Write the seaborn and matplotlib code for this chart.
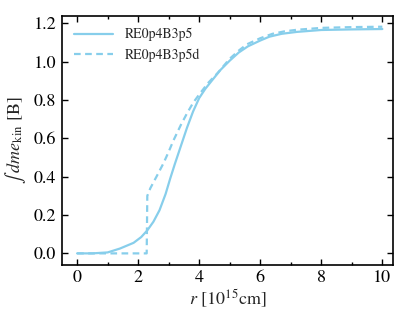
import matplotlib
matplotlib.use("Agg")
import matplotlib.pyplot as plt
import seaborn as sns
from matplotlib.ticker import MultipleLocator, FormatStrFormatter

# solid run
r_a = [0.0, 0.5, 1.0, 1.4, 1.85, 2.1, 2.3, 2.5, 2.7, 2.9, 3.05, 3.2, 3.4, 3.6, 3.8, 4.0, 4.2, 4.4, 4.7,
       5.0, 5.3, 5.6, 6.0, 6.3, 6.7, 7.2, 8.0, 9.0, 10.0]
e_a = [0.0, 0.0, 0.005, 0.025, 0.055, 0.085, 0.12, 0.165, 0.225, 0.31, 0.39, 0.465, 0.56, 0.655, 0.74,
       0.81, 0.858, 0.898, 0.957, 1.005, 1.048, 1.08, 1.11, 1.13, 1.145, 1.155, 1.165, 1.168, 1.17]

# dashed run
r_b = [0.0, 2.28, 2.30, 2.4, 2.5, 2.65, 2.83, 3.0, 3.16, 3.4, 3.6, 3.8, 4.03, 4.3, 4.6, 5.0, 5.3,
       5.56, 6.0, 6.4, 6.8, 7.2, 8.0, 9.0, 10.0]
e_b = [0.0, 0.0, 0.30, 0.34, 0.37, 0.415, 0.47, 0.53, 0.59, 0.67, 0.73, 0.785, 0.835, 0.89, 0.94,
       1.015, 1.058, 1.09, 1.122, 1.145, 1.158, 1.166, 1.176, 1.18, 1.182]

labels = ["RE0p4B3p5", "RE0p4B3p5d"]

sns.set_theme(style="ticks")
plt.rcParams["font.family"] = ["STIXGeneral", "DejaVu Serif"]
plt.rcParams["mathtext.fontset"] = "stix"
plt.rcParams["xtick.direction"] = "in"
plt.rcParams["ytick.direction"] = "in"

fig = plt.figure(figsize=(4.15, 3.12), dpi=100)
ax = fig.add_axes([0.149, 0.151, 0.798, 0.799])

color = "#87ceeb"
sns.lineplot(x=r_a, y=e_a, ax=ax, color=color, lw=1.6, label=labels[0], sort=False)
sns.lineplot(x=r_b, y=e_b, ax=ax, color=color, lw=1.6, ls=(0, (3, 2)), label=labels[1], sort=False)

ax.set_xlim(-0.5, 10.35)
ax.set_ylim(-0.06, 1.24)
ax.xaxis.set_major_locator(MultipleLocator(2))
ax.xaxis.set_minor_locator(MultipleLocator(1))
ax.yaxis.set_major_locator(MultipleLocator(0.2))
ax.yaxis.set_major_formatter(FormatStrFormatter("%.1f"))

ax.tick_params(which="both", top=True, right=True, direction="in", width=1,
               labelsize=13, colors="black", pad=4)
ax.tick_params(which="major", length=4)
ax.tick_params(which="minor", length=2.5)
for s in ax.spines.values():
    s.set_linewidth(1.2)
    s.set_color("black")

ax.set_xlabel(r"$r$ [10$^{15}$cm]", fontsize=13, labelpad=1)
ax.set_ylabel(r"$\int\; dme_{\rm kin}$ [B]", fontsize=13, labelpad=4)

ax.legend(loc="upper left", frameon=False, fontsize=10, handlelength=2.8)

fig.savefig("out.png", dpi=100)
